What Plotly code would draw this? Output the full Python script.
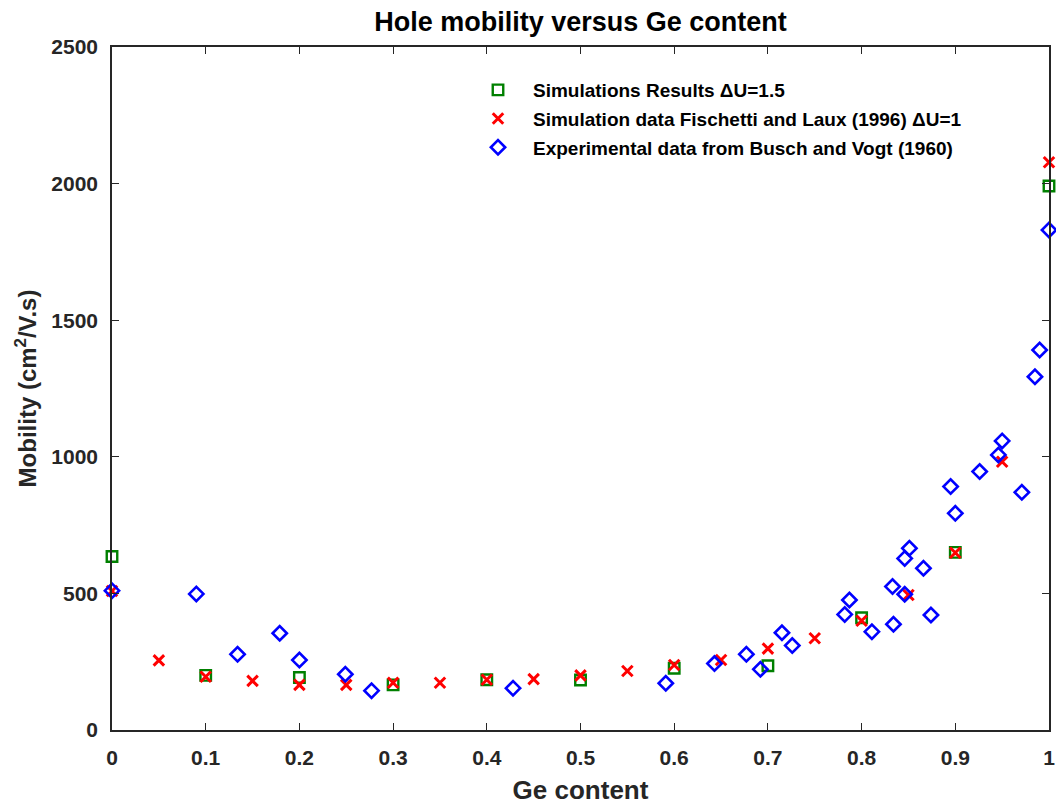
import plotly.graph_objects as go

# Simulations Results, ΔU = 1.5
sim_x = [0.0, 0.1, 0.2, 0.3, 0.4, 0.5, 0.6, 0.7, 0.8, 0.9, 1.0]
sim_y = [635, 200, 192, 165, 184, 183, 226, 235, 411, 650, 1991]

# Fischetti and Laux (1996), ΔU = 1
fl_x = [0.0, 0.05, 0.1, 0.15, 0.2, 0.25, 0.3, 0.35, 0.4, 0.45, 0.5,
        0.55, 0.6, 0.65, 0.7, 0.75, 0.8, 0.85, 0.9, 0.95, 1.0]
fl_y = [509, 255, 195, 180, 165, 165, 173, 173, 184, 186, 200,
        216, 238, 256, 298, 336, 400, 494, 649, 982, 2078]

# Busch and Vogt (1960), experimental
bv_x = [0.0, 0.090, 0.134, 0.179, 0.200, 0.249, 0.277, 0.428, 0.591,
        0.643, 0.677, 0.692, 0.715, 0.726, 0.782, 0.787, 0.811, 0.833,
        0.834, 0.846, 0.846, 0.851, 0.866, 0.874, 0.895, 0.900, 0.926,
        0.946, 0.950, 0.971, 0.985, 0.990, 1.0]
bv_y = [510, 498, 277, 354, 256, 204, 144, 153, 171,
        243, 277, 222, 356, 309, 423, 476, 360, 525,
        387, 497, 628, 665, 592, 421, 891, 793, 946,
        1007, 1058, 870, 1293, 1391, 1830]

x_ticks = [0, 0.1, 0.2, 0.3, 0.4, 0.5, 0.6, 0.7, 0.8, 0.9, 1]
x_tick_text = ["0", "0.1", "0.2", "0.3", "0.4", "0.5", "0.6", "0.7", "0.8", "0.9", "1"]
y_ticks = [0, 500, 1000, 1500, 2000, 2500]

FONT = "Liberation Sans, Arial, sans-serif"
INK = "#262626"

fig = go.Figure()
fig.add_trace(go.Scatter(
    x=sim_x, y=sim_y, mode="markers", name="Simulations Results ΔU=1.5",
    legendgroup="a",
    marker=dict(symbol="square-open", size=10.5, color="#008000",
                line=dict(width=2.4, color="#008000")),
    cliponaxis=False))
fig.add_trace(go.Scatter(
    x=fl_x, y=fl_y, mode="markers",
    name="Simulation data Fischetti and Laux (1996) ΔU=1",
    legendgroup="b",
    marker=dict(symbol="x-thin-open", size=10.5, color="#ff0000",
                line=dict(width=3, color="#ff0000")),
    cliponaxis=False))
fig.add_trace(go.Scatter(
    x=bv_x, y=bv_y, mode="markers",
    name="Experimental data from Busch and Vogt (1960)",
    legendgroup="c",
    marker=dict(symbol="diamond-open", size=11, color="#0000ff",
                line=dict(width=2.6, color="#0000ff")),
    cliponaxis=False))

axis_common = dict(
    showline=True, linecolor=INK, linewidth=1.6, mirror="ticks",
    ticks="inside", ticklen=7, tickwidth=1.4, tickcolor=INK,
    showgrid=False, zeroline=False,
    tickfont=dict(family=FONT, size=21, color=INK, weight="bold"),
)

fig.update_layout(
    width=1056, height=806,
    margin=dict(l=112, r=7, t=47, b=76, autoexpand=False),
    paper_bgcolor="white", plot_bgcolor="white",
    font=dict(family=FONT, color=INK),
    title=dict(text="<b>Hole mobility versus Ge content</b>",
               x=(112 + 1049) / 2 / 1056, xanchor="center",
               y=1 - 22 / 806, yanchor="middle",
               font=dict(family=FONT, size=27, color="#000000")),
    xaxis=dict(range=[0, 1], tickvals=x_ticks, ticktext=x_tick_text,
               ticklabelstandoff=8,
               title=dict(text="<b>Ge content</b>", standoff=13,
                          font=dict(family=FONT, size=26, color=INK)),
               **axis_common),
    yaxis=dict(range=[0, 2500], tickvals=y_ticks,
               ticklabelstandoff=8,
               title=dict(text="<b>Mobility (cm<sup>2</sup>/V.s)</b>", standoff=8,
                          font=dict(family=FONT, size=24, color=INK)),
               **axis_common),
    legend=dict(x=(463 - 112) / 937, y=1 - (71 - 47) / 683,
                xanchor="left", yanchor="top",
                bgcolor="rgba(0,0,0,0)", borderwidth=0,
                traceorder="grouped", tracegroupgap=1, itemwidth=60,
                font=dict(family=FONT, size=19, color="#000000", weight="bold")),
    showlegend=True,
)

fig.write_html("out.html")
